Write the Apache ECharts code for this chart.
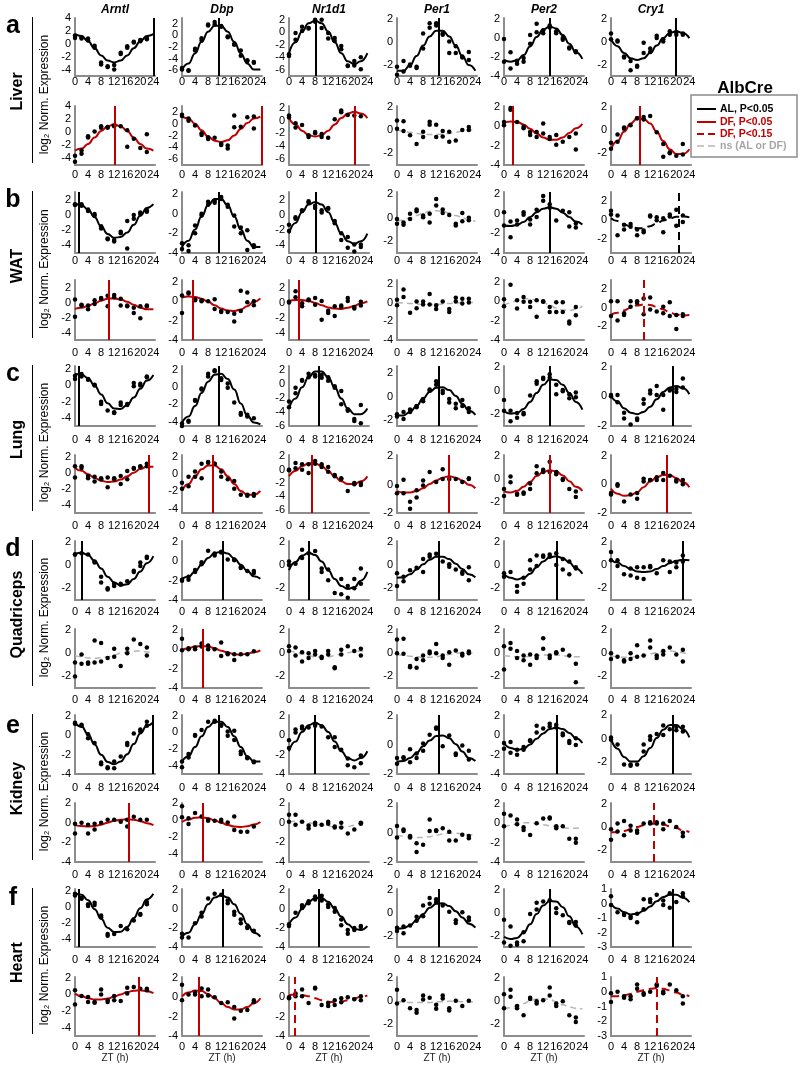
<!DOCTYPE html>
<html><head><meta charset="utf-8">
<script src="https://cdn.jsdelivr.net/npm/echarts@6/dist/echarts.min.js"></script>
<style>html,body{margin:0;padding:0;background:#fff}#c{width:800px;height:1068px}</style>
</head><body><div id="c"></div>
<script>
// ---------------- DATA ----------------
const GENES = ['Arntl','Dbp','Nr1d1','Per1','Per2','Cry1'];
const TISSUES = ['Liver','WAT','Lung','Quadriceps','Kidney','Heart'];
const LETTERS = ['a','b','c','d','e','f'];
const ZT = [0,2,4,6,8,10,12,14,16,18,20,22];
const FIT_ZT = [0,2,4,6,8,10,12,14,16,18,20,22,24];
const LEGEND_TITLE = 'AlbCre';
const LEGEND_LABELS = ['AL, P<0.05','DF, P<0.05','DF, P<0.15','ns (AL or DF)'];
const LEGEND_SIG = ['k','r','rd','g'];

// Liver AL
const liverAL_pts = [
 [[1.3,0.9],[1.0,0.8],[0.8,0.5],[-0.3,-0.6],[-2.9,-3.2],[-3.6,-3.5],[-3.3,-4.0],[-1.4,-1.6],[-0.4,-0.6],[0.3,0.2],[0.6,0.4],[0.9,0.7]],
 [[-5.6,-5.9],[-6.1,-6.0],[-2.3,-2.6],[-0.5,-0.9],[1.9,1.7],[2.3,1.9],[1.6,1.5],[-0.2,-0.3],[-1.5,-1.6],[-2.6,-3.5],[-4.4,-4.3],[-4.7,-4.6]],
 [[-3.5,-3.8],[-0.1,-1.2],[0.9,0.2],[0.7,0.6],[2.0,1.7],[2.0,0.7],[-0.1,-1.0],[-0.9,-1.4],[-2.2,-2.7],[-5.3,-5.4],[-4.6,-5.3],[-4.0,-5.9]],
 [[-2.2,-2.9],[-1.7,-2.6],[-2.0,-2.1],[-2.2,-2.3],[0.7,-0.6],[1.6,1.2],[1.6,1.4],[0.7,0.6],[0.0,-1.0],[-0.4,-1.0],[-1.3,-1.4],[-0.9,-1.6]],
 [[-0.1,-2.5],[-1.5,-3.2],[-2.4,-2.7],[-2.1,-2.5],[0.3,-0.6],[1.5,0.6],[0.8,0.5],[1.3,1.1],[0.7,0.5],[0.0,-0.2],[-1.0,-1.1],[-1.5,-1.4]],
 [[0.7,0.2],[0.0,0.1],[-1.3,-1.4],[-1.7,-2.5],[-2.1,-2.2],[-1.0,-0.1],[-0.6,-0.9],[0.5,0.3],[0.2,0.0],[0.9,0.6],[0.8,0.6],[0.7,0.6]]
];
const liverAL_fit = [
 [1.5,1.2,0.4,-0.7,-1.8,-2.6,-2.9,-2.6,-1.8,-0.7,0.4,1.2,1.5],
 [-5.9,-4.85,-3.1,-1.1,0.65,1.65,1.65,0.65,-1.1,-3.1,-4.85,-5.9,-5.9],
 [-3.35,-1.6,0.15,1.45,1.9,1.45,0.15,-1.6,-3.35,-4.65,-5.1,-4.65,-3.35],
 [-2.55,-2.55,-2.05,-1.25,-0.35,0.45,0.95,0.95,0.45,-0.35,-1.25,-2.05,-2.55],
 [-2.3,-2.5,-2.35,-1.8,-0.9,0.1,0.9,1.2,1.0,0.3,-0.6,-1.5,-2.2],
 [0.25,-0.4,-1.0,-1.45,-1.6,-1.45,-1.0,-0.35,0.3,0.75,0.9,0.75,0.3]
];
const liverAL_peak = [24.2, 11.2, 8.2, 12.9, 14.1, 19.9];
const liverAL_sig = ['k','k','k','k','k','k'];
const liverAL_ymin = [-5,-7,-7,-3,-4,-3];
const liverAL_ymax = [4,3,2.3,2.05,2.1,2.05];

// Liver DF
const liverDF_pts = [
 [[-3.6,-4.5],[-2.8,-3.3],[-0.6,-0.8],[0.1],[0.9,0.7],[0.8,0.7],[0.9,1.0],[0.9],[0.3,-2.2],[-1.0],[-2.4],[-0.3,-3.0]],
 [[1.5,1.3],[0.5,0.9],[-0.3],[-1.6,-1.9],[-2.3,-2.6],[-2.4],[-3.4,-3.6],[-3.7,-4.2],[1.4,-0.6],[-0.5],[1.1],[1.2,-0.8]],
 [[0.8,0.5],[-0.4,-1.1],[-0.7],[-2.6,-2.3],[-2.0,-1.8],[-2.1,-2.6],[-2.7],[0.2],[1.6,1.3],[0.9],[0.8],[0.7]],
 [[0.8,0.1],[0.75,-0.1],[-0.45],[-1.2],[-0.15,-0.6],[0.7,0.45],[0.45,-0.6],[-0.1,-0.55],[-0.15,-1.0],[-0.9],[0.0],[0.25,0.0]],
 [[0.45,0.1],[1.9,1.7],[0.45],[-0.05,-0.2],[-0.9,-0.6],[-1.1,-0.6],[0.3,-0.75],[-1.1,-1.3],[-0.9,-1.9],[-1.6],[-1.1],[-0.75,-2.4]],
 [[-1.1,-1.6],[-0.4,-1.0],[0.1,0.2],[0.4],[1.0,1.0],[1.1,0.9],[1.2],[-0.2],[-1.2,-2.3],[-2.0,-1.9],[-2.2],[-1.2,-2.1]]
];
const liverDF_fit = [
 [-2.8,-2.5,-1.8,-0.8,0.2,0.9,1.2,0.9,0.2,-0.8,-1.8,-2.5,-2.8],
 [1.2,0.9,0.0,-1.1,-2.2,-2.9,-3.1,-2.8,-2.0,-0.9,0.1,0.9,1.2],
 [0.4,-0.6,-1.6,-2.3,-2.5,-2.3,-1.6,-0.6,0.4,1.1,1.4,1.1,0.4],
 [0.0,-0.1,-0.2,-0.3,-0.35,-0.4,-0.4,-0.35,-0.3,-0.2,-0.1,0.0,0.05],
 [0.35,0.5,0.45,0.2,-0.25,-0.75,-1.15,-1.4,-1.4,-1.15,-0.7,-0.2,0.25],
 [-1.65,-0.95,-0.15,0.55,0.95,0.95,0.55,-0.15,-0.95,-1.65,-2.05,-2.05,-1.65]
];
const liverDF_peak = [12.2, 24.4, 20, null, 2.8, 8.9];
const liverDF_sig = ['r','r','r','g','r','r'];
const liverDF_ymin = [-5,-7,-7,-3,-4,-3];
const liverDF_ymax = [4,3,2.3,2.05,2.1,2.05];

// WAT AL
const watAL_pts = [
 [[1.4,1.3],[1.4,1.2],[0.7,0.5],[0.1,-0.1],[-1.5,-1.8],[-3.1,-3.2],[-3.3,-3.5],[-2.2,-2.4],[-0.8,-4.4],[0.0,-0.5],[0.3,0.1],[0.6,0.4]],
 [[-3.0,-3.6],[-3.2,-3.8],[-1.2,-2.0],[0.0,-0.2],[1.2,0.9],[1.3,1.1],[1.7,1.5],[0.9,0.7],[-1.3,-0.2],[-1.4,-2.0],[-1.7,-3.7],[-3.2,-3.4]],
 [[-1.3,-2.1],[-0.3,-0.5],[0.6,0.5],[1.8,1.6],[1.2,0.9],[0.6,0.3],[0.9,0.8],[-0.8,-1.1],[-2.4,-3.3],[-2.9,-4.3],[-3.9,-4.8],[-3.9,-4.2]],
 [[-0.1,-0.5],[-0.4,-0.6],[0.35,-0.1],[0.7,0.55],[0.2,0.05],[0.35,-0.4],[1.6,1.05],[0.7,0.4],[0.25],[-0.5,-0.65],[0.4,-0.3],[0.0,-0.2]],
 [[0.15,-1.2],[-0.8,-2.4],[-0.7,-1.1],[0.15,-0.1],[-0.6,-1.1],[0.4,-0.35],[1.8,1.3],[0.95,0.6],[-0.7],[0.3],[0.15,-1.3],[-1.0,-1.4]],
 [[1.0,0.6],[0.5,-1.6],[-0.5,-1.0],[-0.4,-0.7],[-1.0,-1.6],[-1.1,-1.3],[0.4,0.5],[0.3,0.0],[0.2,-1.3],[0.6,0.4],[1.1,-0.6],[0.5,-0.2]]
];
const watAL_fit = [
 [1.45,1.3,0.7,-0.3,-1.5,-2.5,-3.0,-2.9,-2.3,-1.3,-0.1,0.9,1.4],
 [-3.4,-2.75,-1.6,-0.3,0.85,1.5,1.5,0.85,-0.3,-1.6,-2.75,-3.4,-3.4],
 [-2.45,-1.05,0.35,1.35,1.7,1.35,0.35,-1.05,-2.45,-3.45,-3.8,-3.45,-2.45],
 [-0.3,-0.2,0.0,0.2,0.4,0.55,0.6,0.55,0.4,0.2,0.0,-0.2,-0.3],
 [-1.2,-1.25,-1.15,-0.85,-0.35,0.15,0.5,0.65,0.5,0.1,-0.35,-0.8,-1.1],
 [0.2,-0.1,-0.45,-0.7,-0.85,-0.85,-0.65,-0.35,-0.05,0.2,0.35,0.4,0.3]
];
const watAL_peak = [1.2, 11.3, 8.1, null, 14.1, 20.9];
const watAL_sig = ['k','k','k','g','k','kd'];
const watAL_ymin = [-5,-4,-5,-3,-4,-3.5];
const watAL_ymax = [3,2.2,3,2.2,2.2,3];

// WAT DF
const watDF_pts = [
 [[0.4,-1.9],[-0.3,-0.4],[-0.4,-0.9],[0.3,-0.2],[0.5,0.6],[0.9,-0.5],[1.0,0.7],[0.5,-0.4],[-0.4,-0.5],[-0.7,-1.4],[-0.5,-2.1],[-0.4,-0.5]],
 [[0.6,-1.2],[0.9,0.8],[0.2,0.1],[0.1,0.0],[0.0],[0.2,-0.8],[-1.0,-1.1],[-1.1],[-2.1,-1.3],[1.1,-1.0],[0.9,-0.1],[0.0,-0.4]],
 [[0.1,0.0],[1.5,0.7],[-0.1,-0.5],[0.4,0.3],[0.6,-0.3],[0.2,-2.3],[-1.1,-1.4],[-1.8,-0.5],[-0.4,-0.6],[0.6,0.2],[-0.6,-0.8],[0.1,-0.4]],
 [[0.3,-0.3],[1.4,0.6],[-1.1],[0.1,-0.6],[0.1,-0.2],[0.9,-0.2],[-0.3,-0.7],[0.1],[-0.7,-1.0],[0.5,0.1],[0.4,-0.1],[0.4,0.0]],
 [[0.2,-0.5],[1.7],[0.1,-0.75],[0.45,-0.05],[-0.05,-0.6],[0.1,-1.6],[0.0,-0.05],[-0.6,-1.1],[-0.1,-1.1],[-0.1,-1.1],[-2.1,-2.3],[-0.6,-1.45]],
 [[0.7,-0.9],[0.7,-1.4],[-0.6,-0.8],[0.7,0.1],[0.7,0.5],[1.0,-0.7],[1.1,-0.2],[-0.4],[0.1,-0.6],[0.6,-0.9],[-0.8,-2.3],[-0.7,-0.9]]
];
const watDF_fit = [
 [-0.85,-0.7,-0.45,-0.1,0.25,0.5,0.55,0.4,0.1,-0.3,-0.7,-0.9,-0.9],
 [0.4,0.5,0.45,0.25,-0.05,-0.4,-0.75,-0.95,-1.0,-0.85,-0.5,-0.05,0.3],
 [0.2,0.35,0.35,0.2,-0.05,-0.35,-0.65,-0.8,-0.85,-0.7,-0.45,-0.1,0.15],
 [0.0,-0.05,-0.1,-0.15,-0.2,-0.2,-0.2,-0.15,-0.1,-0.05,0.0,0.0,0.0],
 [-0.45,-0.15,0.1,0.25,0.25,0.1,-0.1,-0.4,-0.7,-0.9,-0.95,-0.8,-0.5],
 [-0.75,-0.55,-0.3,0.0,0.25,0.35,0.3,0.1,-0.2,-0.5,-0.75,-0.85,-0.8]
];
const watDF_peak = [10.2, 3.2, 3.1, null, null, 10.1];
const watDF_sig = ['r','r','r','g','g','rd'];
const watDF_ymin = [-5,-4,-5,-4,-4,-3.5];
const watDF_ymax = [3,2.2,3,2.4,2.2,3];

// Lung AL
const lungAL_pts = [
 [[1.2,0.8],[1.4,1.1],[0.8,0.7],[0.1,0.0],[-2.0,-2.3],[-3.1],[-3.3,-3.4],[-2.1,-2.4],[-2.3,-2.4],[0.3,-0.1],[0.2,0.0],[1.0,1.1]],
 [[-4.2,-4.5],[-3.9,-4.0],[-1.6,-1.5],[-0.2,-0.3],[1.5,1.2],[1.9,1.8],[0.8,1.0],[0.4,-0.1],[-1.8],[-3.0,-3.2],[-3.2,-3.4],[-3.6]],
 [[-2.5,-3.3],[-0.5,-1.3],[0.5,0.6],[1.5,1.0],[1.3,1.1],[0.9,1.3],[1.0,0.5],[-0.3,-0.5],[-1.0,-2.9],[-3.6,-3.8],[-5.0,-5.3],[-3.0,-5.6]],
 [[-1.5,-1.7],[-1.3,-1.9],[-1.1,-1.3],[-0.9,-0.8],[-0.2,-0.4],[0.5,0.6],[1.3,1.0],[0.5,0.3],[-0.2,-0.5],[-0.6,-1.0],[-0.3,-0.8],[-1.0,-1.3]],
 [[-0.8,-1.7],[-1.7,-2.6],[-1.9,-2.3],[-1.9,-2.0],[-0.4],[0.8,0.6],[1.1,1.0],[1.4,1.1],[0.5,-0.3],[0.05,-0.05],[-0.3,-0.65],[-0.15,-0.55]],
 [[0.0,0.1],[0.1,-0.4],[-1.1,-1.5],[-1.9],[-1.6,-1.5],[-0.2,-0.5],[0.4,0.2],[0.7,0.1],[0.1,-0.9],[0.4,0.5],[0.3,0.5],[1.2,0.6]]
];
const lungAL_fit = [
 [1.4,1.35,0.9,0.0,-1.1,-2.2,-2.85,-2.9,-2.4,-1.5,-0.4,0.6,1.3],
 [-4.1,-3.4,-2.2,-0.7,0.6,1.4,1.5,0.9,-0.3,-1.9,-3.3,-4.1,-4.3],
 [-3.5,-2.05,-0.45,1.0,1.8,1.8,1.0,-0.45,-2.05,-3.5,-4.3,-4.3,-3.5],
 [-1.6,-1.6,-1.3,-0.8,-0.15,0.4,0.75,0.8,0.55,0.05,-0.6,-1.2,-1.55],
 [-1.75,-1.95,-1.9,-1.55,-0.95,-0.2,0.5,0.95,0.9,0.5,-0.2,-0.95,-1.6],
 [0.05,-0.35,-0.8,-1.1,-1.2,-1.05,-0.7,-0.2,0.3,0.6,0.7,0.55,0.15]
];
const lungAL_peak = [1.2, 11.3, 9.2, 12.9, 14.1, 19];
const lungAL_sig = ['k','k','k','k','k','k'];
const lungAL_ymin = [-5,-4.5,-6,-2.5,-3,-2];
const lungAL_ymax = [2.4,2.4,2.6,2.6,2.1,2.05];

// Lung DF
const lungDF_pts = [
 [[0.8,-0.6],[0.8,0.6],[-0.4,-0.7],[-0.5,-1.1],[-0.7,-0.8],[-0.6,-1.8],[-0.7,-0.8],[-0.4,-1.4],[0.2,-0.8],[0.6,0.5],[0.8,0.7],[1.1,0.8]],
 [[-1.0,-1.7],[-0.3,-1.4],[0.3,-0.3],[1.2,-0.5],[1.4,1.3],[1.2,1.2],[0.3,-0.3],[-0.6],[-0.8,-1.7],[-2.4],[-2.5,-2.4],[-2.5,-2.3]],
 [[0.0,-0.1],[1.0,0.2],[0.8,0.0],[0.8,-0.5],[1.3,0.9],[0.8,0.4],[0.4,-0.3],[-0.8,-1.0],[-1.3,-1.4],[-3.2],[-2.2,-2.0],[-2.0,-2.3]],
 [[-0.6,-0.1],[0.35,-0.6],[-1.2,-1.7],[-0.4,-0.9],[0.3,-0.05],[0.9],[0.2],[1.1,0.4],[0.4],[0.4],[0.2],[0.4,0.45]],
 [[-0.9,-1.5],[0.2,-0.3],[-1.4,-1.3],[-1.3,-1.2],[-0.4,-0.9],[1.1,0.5],[0.8,0.6],[1.5,0.6],[0.6,0.4],[0.0,-0.1],[-0.9],[-1.1,-1.6]],
 [[-0.6,-0.7],[-0.1,0.0],[-1.2],[-0.7],[-0.6,-1.0],[0.4,0.2],[0.3,0.3],[0.5,0.3],[0.8,0.3],[0.6],[0.2,0.3],[0.3,0.0]]
];
const lungDF_fit = [
 [0.6,0.25,-0.2,-0.65,-1.0,-1.15,-1.1,-0.85,-0.45,0.0,0.45,0.75,0.75],
 [-1.95,-1.15,-0.25,0.55,1.0,1.0,0.55,-0.25,-1.15,-1.95,-2.4,-2.4,-1.95],
 [-1.0,-0.2,0.55,0.95,0.95,0.55,-0.2,-1.0,-1.75,-2.15,-2.15,-1.75,-1.0],
 [-0.45,-0.55,-0.55,-0.45,-0.25,0.05,0.3,0.5,0.6,0.5,0.3,0.0,-0.25],
 [-1.1,-1.2,-1.05,-0.7,-0.25,0.25,0.6,0.75,0.65,0.3,-0.2,-0.7,-1.05],
 [-0.3,-0.65,-0.8,-0.75,-0.55,-0.2,0.2,0.5,0.65,0.65,0.45,0.15,-0.2]
];
const lungDF_peak = [22.7, 9.3, 7.1, 16, 14.1, 17];
const lungDF_sig = ['r','r','r','r','r','r'];
const lungDF_ymin = [-5,-4.5,-6.5,-2,-3,-2];
const lungDF_ymax = [2.2,2.2,2.2,2.1,2.1,2.05];

// Quadriceps AL
const quadAL_pts = [
 [[0.9,0.9],[1.0],[0.9],[0.2,0.3],[-1.0,-1.5],[-2.0,-2.1],[-1.6,-1.8],[-1.7,-1.6],[-1.4],[-0.6,-0.5],[0.2,-0.1],[0.7,0.6]],
 [[-1.9,-2.0],[-1.9,-1.6],[-1.1,-0.9],[-0.1,-0.3],[1.1],[0.8,0.6],[1.0,0.9],[0.2],[0.1,0.2],[-0.6,-0.7],[-1.0],[-1.0,-1.2]],
 [[0.3,0.0],[0.1],[1.3,0.6],[1.0],[1.2],[-0.3,-0.6],[-0.4,-1.3],[-2.4],[-1.2,-2.5],[-2.8,-1.8],[-1.2,-2.0],[-0.3,-1.6]],
 [[-0.7,-1.8],[-1.0,-1.4],[-0.45],[-0.25],[0.5,-0.6],[0.9,0.7],[0.95],[0.3],[0.05,-0.15],[-0.4],[-0.6,-0.75],[-0.2,-1.3]],
 [[-0.7,-1.0],[-0.6],[-1.8,-2.3],[-1.1,-1.6],[0.4,-0.4],[0.8,-0.1],[0.8,0.7],[0.9,0.7],[1.0,0.0],[0.5,-0.4],[0.3,-0.8],[-0.2,-0.3]],
 [[1.1,0.4],[0.4,-0.1],[-0.8],[-0.3,-0.9],[-0.2,-1.1],[-0.2,-1.2],[-0.1,-0.2],[-0.7],[0.4],[0.3,-0.6],[0.2,-0.2],[0.8,0.3]]
];
const quadAL_fit = [
 [0.95,1.05,0.85,0.35,-0.3,-1.0,-1.5,-1.75,-1.65,-1.2,-0.55,0.15,0.75],
 [-1.8,-1.6,-1.05,-0.35,0.35,0.85,1.0,0.8,0.3,-0.35,-1.0,-1.55,-1.8],
 [-0.45,0.25,0.8,1.05,0.85,0.3,-0.45,-1.2,-1.8,-2.05,-1.9,-1.35,-0.6],
 [-1.1,-1.05,-0.8,-0.4,0.05,0.45,0.7,0.7,0.5,0.1,-0.35,-0.8,-1.05],
 [-0.75,-1.1,-1.25,-1.1,-0.75,-0.2,0.3,0.65,0.75,0.6,0.2,-0.3,-0.75],
 [0.45,0.2,-0.1,-0.35,-0.55,-0.6,-0.55,-0.35,-0.1,0.15,0.35,0.45,0.4]
];
const quadAL_peak = [2.1, 12.5, 6.1, 12.9, 16.2, 22.1];
const quadAL_sig = ['k','k','k','k','k','k'];
const quadAL_ymin = [-3,-4,-3,-3,-3,-3];
const quadAL_ymax = [2.05,2.1,2.05,2.05,2.05,2.05];

// Quadriceps DF
const quadDF_pts = [
 [[-0.8,-2.0],[-0.1,-0.9],[-0.8,-0.9],[1.1,-0.8],[0.9,-0.7],[-0.4],[0.4,-0.3],[-1.1],[0.4,0.0],[1.2],[0.8],[0.5,-0.2]],
 [[1.1,-0.1],[0.0,0.1],[0.0,0.2],[0.6,0.3],[0.4,0.0],[0.0],[0.7,-0.7],[-0.4,-0.5],[-1.1,-0.5],[-0.5],[-0.5],[-0.2]],
 [[0.6,0.2],[0.5,-0.2],[0.1,-0.7],[0.0,-0.4],[0.2,-0.1],[-0.3,-0.4],[0.2,-0.1],[-1.2,-1.3],[0.3,-0.1],[0.6],[0.2],[0.4,-0.2]],
 [[1.2,0.0],[1.25,-0.05],[-1.1,-1.2],[-1.25,-0.5],[-0.2,-0.6],[0.15,0.0],[0.8,0.0],[-0.2,-0.4],[0.1,-1.0],[0.25],[-0.05,-0.2],[0.15,0.0]],
 [[0.6,-1.4],[0.9,0.4],[0.2,-0.4],[-0.2,-0.6],[-0.1,-1.0],[-0.2,-0.4],[1.3,0.4],[-0.2,-0.4],[0.1,0.0],[0.3],[-0.2],[-0.9,-2.5]],
 [[0.0,-0.5],[-0.3],[-0.6,-0.7],[0.0,-0.5],[0.7,-0.3],[-0.2],[1.1,0.5],[-0.2,-0.4],[0.2,-0.1],[0.5],[-0.1],[0.3,-0.7]]
];
const quadDF_fit = [
 [-0.2,-0.3,-0.4,-0.42,-0.38,-0.3,-0.15,0.0,0.1,0.18,0.2,0.12,0.0],
 [-0.1,0.1,0.3,0.35,0.3,0.1,-0.15,-0.35,-0.5,-0.55,-0.45,-0.3,-0.1],
 [0.25,0.1,-0.05,-0.2,-0.3,-0.35,-0.3,-0.2,-0.05,0.05,0.15,0.2,0.2],
 [-0.1,-0.15,-0.25,-0.3,-0.35,-0.35,-0.3,-0.2,-0.1,0.0,0.05,0.05,0.0],
 [-0.2,-0.25,-0.3,-0.3,-0.25,-0.2,-0.15,-0.15,-0.15,-0.2,-0.25,-0.3,-0.3],
 [-0.2,-0.3,-0.35,-0.35,-0.3,-0.2,-0.05,0.05,0.15,0.2,0.15,0.05,-0.1]
];
const quadDF_peak = [null, 6.3, null, null, null, null];
const quadDF_sig = ['g','r','g','g','g','g'];
const quadDF_ymin = [-3,-4,-3,-3,-3,-3];
const quadDF_ymax = [2.1,2.1,2.1,2.1,2.1,2.1];

// Kidney AL
const kidneyAL_pts = [
 [[1.3,1.2],[1.1,1.0],[0.1,-0.3],[-0.8],[-2.8,-3.0],[-3.3,-3.4],[-2.7,-3.4],[-2.2],[-0.8,-1.0],[0.2],[0.6,0.4],[1.0,1.4]],
 [[-3.5,-4.2],[-2.6,-3.0],[-0.3,-0.4],[0.3],[1.3],[1.4,1.3],[0.9,0.8],[0.1,-0.4],[-0.9,0.2],[-2.3,-2.6],[-3.0,-3.1],[-3.5,-3.6]],
 [[-0.5,-1.3],[0.6,0.3],[0.9,0.7],[0.8],[1.2,1.0],[0.9],[-0.2],[-0.2,-1.2],[-1.5],[-3.1,-2.4],[-3.3],[-2.1,-2.9]],
 [[-0.9,-1.3],[-0.85,-0.9],[-0.3,-1.2],[-0.6,-0.9],[0.1,-0.4],[0.7],[1.2,1.1],[-0.1],[0.65],[-0.6,-0.7],[-0.05],[-0.4,-1.0]],
 [[-0.8,-1.4],[-0.7,-1.8],[-1.5,-2.0],[-1.2,-1.5],[-0.5,-0.6],[1.0,0.3],[0.7],[0.9,1.2],[1.1,0.8],[0.2,0.0],[-0.6,-0.8],[-0.3,-1.0]],
 [[0.1,-0.1],[-0.5],[-2.2],[-2.3,-2.2],[-2.2],[-0.5,-1.1],[-0.1,0.2],[0.4],[1.1,0.3],[0.8],[1.0,0.7],[1.0,0.6]]
];
const kidneyAL_fit = [
 [1.25,0.9,0.1,-0.95,-2.0,-2.75,-3.0,-2.7,-1.95,-0.9,0.2,1.0,1.35],
 [-3.5,-2.85,-1.75,-0.45,0.65,1.3,1.3,0.65,-0.45,-1.75,-2.85,-3.5,-3.5],
 [-1.65,-0.65,0.35,1.05,1.3,1.05,0.35,-0.65,-1.65,-2.35,-2.6,-2.35,-1.65],
 [-1.15,-1.1,-0.9,-0.55,-0.1,0.3,0.6,0.65,0.45,0.05,-0.45,-0.9,-1.1],
 [-0.8,-1.3,-1.5,-1.4,-0.95,-0.35,0.2,0.65,0.8,0.65,0.25,-0.3,-0.8],
 [0.0,-0.85,-1.55,-1.95,-1.95,-1.5,-0.8,0.05,0.75,1.15,1.15,0.8,0.1]
];
const kidneyAL_peak = [23.7, 11.3, 8, 12.9, 16.2, 19];
const kidneyAL_sig = ['k','k','k','k','k','k'];
const kidneyAL_ymin = [-4,-5,-4,-2,-4,-3];
const kidneyAL_ymax = [2.1,2.1,2.1,2.05,2.1,2.0];

// Kidney DF
const kidneyDF_pts = [
 [[-0.1,-1.1],[0.0],[-0.2,-1.1],[-0.1,-0.7],[0.0],[0.3],[0.3],[0.1],[0.3,-0.4],[0.6],[0.3],[0.3]],
 [[1.6,0.3],[0.2,-0.5],[0.8],[0.4],[-0.1,0.0],[-0.1],[0.0,-0.2],[-0.3],[0.4,-1.2],[-1.4],[-1.4],[-0.8]],
 [[0.8,0.1],[0.8,-0.2],[0.1],[-0.3,-0.6],[-0.2,0.0],[-0.2],[-0.1,0.1],[-0.5,-0.4],[0.0,-0.5],[-1.1],[-0.7],[0.0,-0.1]],
 [[0.5,-0.3],[0.25,0.15],[-0.2,-0.3],[-0.7,-1.3],[-0.8],[0.95,0.15],[0.2,0.15],[0.35],[0.1,-0.5],[-0.5],[-0.1],[-0.2,-0.35]],
 [[1.0,-0.3],[0.8],[0.4,-0.1],[-0.4,-0.7],[-1.2],[0.0],[0.5],[0.6,0.5],[-0.3,-0.5],[-0.3],[-1.6],[-1.6,-2.0]],
 [[-0.2,-1.1],[0.3,-0.4],[0.5,-0.7],[0.1,-0.3],[-0.3,-0.5],[0.3],[0.4,0.3],[0.4,0.3],[0.3,-0.2],[0.5],[0.0],[-0.5,-0.8]]
];
const kidneyDF_fit = [
 [-0.25,-0.35,-0.4,-0.35,-0.2,0.0,0.2,0.3,0.35,0.3,0.15,-0.05,-0.25],
 [-0.25,0.05,0.25,0.3,0.2,-0.05,-0.35,-0.6,-0.8,-0.85,-0.75,-0.55,-0.25],
 [0.1,0.15,0.1,0.0,-0.1,-0.25,-0.35,-0.45,-0.45,-0.4,-0.25,-0.05,0.1],
 [-0.15,-0.2,-0.25,-0.3,-0.3,-0.25,-0.15,-0.05,0.0,0.0,-0.05,-0.1,-0.15],
 [-0.4,-0.2,-0.05,0.05,0.05,-0.05,-0.15,-0.25,-0.35,-0.45,-0.5,-0.5,-0.45],
 [-0.45,-0.45,-0.35,-0.2,0.0,0.15,0.25,0.3,0.2,0.05,-0.1,-0.3,-0.45]
];
const kidneyDF_peak = [16.6, 6.3, null, null, null, 13.2];
const kidneyDF_sig = ['r','r','g','g','g','rd'];
const kidneyDF_ymin = [-4,-5,-4,-2,-4,-3];
const kidneyDF_ymax = [2,2,2,2.1,2.1,2.05];

// Heart AL
const heartAL_pts = [
 [[1.6,1.4],[1.1,1.0],[0.3,0.1],[0.5,0.2],[-1.1,-1.3],[-3.4,-3.6],[-3.4],[-2.4],[-2.8],[-1.7],[-0.9,-1.0],[0.3,0.6]],
 [[-2.6,-3.0],[-3.0],[-1.5],[-0.4,-0.8],[1.1],[1.6],[1.5],[0.9,0.6],[-0.3,-0.6],[-1.1,-1.5],[-1.9,-2.0],[-2.3]],
 [[-1.6,-1.8],[-0.4],[0.4,0.1],[0.6,0.8],[1.3,1.0],[1.4,0.9],[0.5,0.2],[-0.3,0.1],[-1.1,-1.7],[-2.2,-2.6],[-2.0,-2.2],[-1.8,-1.9]],
 [[-1.3,-1.6],[-1.2,-1.8],[-1.1],[-0.35,-0.7],[0.65,-0.3],[1.3,0.8],[1.2,0.95],[0.65],[0.1],[-0.65,-0.9],[0.05],[-0.4,-0.65]],
 [[-0.6,-2.6],[-1.2,-2.9],[-2.6,-2.8],[-1.7,-2.5],[-0.1],[0.9,0.3],[1.0],[1.1],[0.4,0.0],[-0.2],[-0.8,-0.9],[-0.8,-1.1]],
 [[0.5,-0.1],[-0.6],[-0.7,-0.8],[-0.9,-1.0],[-0.7,-1.3],[-0.4,0.3],[0.1,0.3],[0.6],[0.2,-0.1],[-0.3,0.7],[0.1],[0.7,0.5]]
];
const heartAL_fit = [
 [1.65,1.5,0.8,-0.3,-1.5,-2.6,-3.15,-3.1,-2.5,-1.4,-0.2,0.9,1.6],
 [-2.9,-2.5,-1.6,-0.55,0.5,1.2,1.45,1.2,0.5,-0.5,-1.6,-2.5,-2.9],
 [-1.65,-0.9,0.0,0.75,1.15,1.15,0.75,0.05,-0.8,-1.6,-2.1,-2.2,-1.8],
 [-1.4,-1.35,-1.1,-0.65,-0.1,0.45,0.8,0.85,0.6,0.15,-0.4,-0.95,-1.3],
 [-2.1,-2.3,-2.2,-1.75,-1.0,-0.1,0.65,1.05,1.0,0.5,-0.3,-1.2,-1.9],
 [0.0,-0.35,-0.6,-0.75,-0.7,-0.5,-0.2,0.15,0.45,0.6,0.6,0.4,0.1]
];
const heartAL_peak = [1.2, 12.5, 9.2, 12.9, 14.1, 19];
const heartAL_sig = ['k','k','k','k','k','k'];
const heartAL_ymin = [-5,-4,-4,-3,-3,-3];
const heartAL_ymax = [2.2,2.1,2.1,2.1,2.1,1.0];

// Heart DF
const heartDF_pts = [
 [[0.5,-1.2],[-0.2],[-0.3,-0.9],[-0.9,-1.0],[0.6,0.0],[-0.7,-0.9],[-0.2,-0.7],[-0.8],[0.8,0.1],[0.9],[0.7],[0.7,0.5]],
 [[1.3,-0.3],[0.3],[0.5,0.3],[0.9,0.1],[0.8,0.2],[0.0],[-0.6],[-0.5],[-1.0,-2.2],[-1.4],[-1.3],[-0.3,-0.5]],
 [[0.0,-0.1],[0.4,0.1],[0.8,0.1],[-0.6],[1.0,0.9],[-0.8],[-0.9,-0.6],[-0.3,-0.8],[-0.1,-0.5],[0.0],[-0.2],[0.1,-0.3]],
 [[1.0,-0.2],[0.1],[-0.6],[-0.75,-1.0],[0.5,0.15],[0.3],[-0.3,-0.65],[0.5,0.25],[-0.6,-0.8],[0.05],[-0.4],[0.05]],
 [[0.6,-0.6],[1.0,0.4],[-0.4,-0.6],[-1.2],[0.3,0.2],[0.0,-0.2],[0.1],[1.2,0.5],[-0.2,-0.4],[0.0],[-1.2],[-1.4,-1.8]],
 [[-0.1,-0.7],[0.0],[-0.3,-0.4],[-0.3,-0.5],[0.5,0.2],[-0.2,-0.1],[0.0],[0.5,0.4],[0.0,-0.1],[0.5],[0.1],[-0.3,-0.8]]
];
const heartDF_fit = [
 [0.1,-0.2,-0.45,-0.6,-0.6,-0.5,-0.25,0.0,0.3,0.45,0.5,0.4,0.15],
 [0.1,0.5,0.7,0.65,0.35,-0.1,-0.6,-1.0,-1.25,-1.25,-1.0,-0.6,-0.1],
 [0.25,0.3,0.25,0.1,-0.1,-0.3,-0.45,-0.5,-0.45,-0.3,-0.1,0.05,0.2],
 [-0.05,-0.05,-0.1,-0.1,-0.1,-0.1,-0.05,-0.05,0.0,0.0,-0.05,-0.05,-0.1],
 [-0.6,-0.55,-0.4,-0.2,0.05,0.2,0.25,0.15,-0.05,-0.3,-0.5,-0.6,-0.65],
 [-0.3,-0.3,-0.25,-0.15,0.0,0.1,0.2,0.25,0.2,0.1,-0.05,-0.2,-0.3]
];
const heartDF_peak = [19.4, 5.2, 1.8, null, null, 14.1];
const heartDF_sig = ['r','r','rd','g','g','rd'];
const heartDF_ymin = [-5,-4,-4,-3,-3,-3];
const heartDF_ymax = [2.1,2.1,2.1,2.1,2.1,1.0];

// panels whose y axis is labelled at every integer
const UNIT_TICK_PANELS = ['heartAL:5','heartDF:5'];

// ---------------- LAYOUT ----------------
const FONT = '"Liberation Sans", Arial, Helvetica, sans-serif';
const COL_X = [75,182,289,397,504,611];
const PLOT_W = 80;
const ROW_TOP = [18,106,192,280,366,455,541,629,715,803,889,977];
const ROW_BOT = [76,165,253,340,426,513,600,688,774,862,947,1036];
const ROW_LAB = [82,175,261,353,440,526,612,700,788,875,960,1047];
const LETTER_Y = [26,200,374,549,726,898];
const AXIS_COLOR = '#8c8c8c';
const STYLE = {
  k:  {color:'#000000', width:2, type:'solid'},
  kd: {color:'#000000', width:2, type:[8,5]},
  r:  {color:'#c00000', width:2, type:'solid'},
  rd: {color:'#c00000', width:2, type:[8,5]},
  g:  {color:'#b5b5b5', width:1.5, type:[6,4]}
};
const TEXT_COLOR = {k:'#000000', r:'#c00000', rd:'#c00000', g:'#a6a6a6'};

const ROWS = [
 {key:'liverAL', pts:liverAL_pts, fit:liverAL_fit, peak:liverAL_peak, sig:liverAL_sig, ymin:liverAL_ymin, ymax:liverAL_ymax},
 {key:'liverDF', pts:liverDF_pts, fit:liverDF_fit, peak:liverDF_peak, sig:liverDF_sig, ymin:liverDF_ymin, ymax:liverDF_ymax},
 {key:'watAL', pts:watAL_pts, fit:watAL_fit, peak:watAL_peak, sig:watAL_sig, ymin:watAL_ymin, ymax:watAL_ymax},
 {key:'watDF', pts:watDF_pts, fit:watDF_fit, peak:watDF_peak, sig:watDF_sig, ymin:watDF_ymin, ymax:watDF_ymax},
 {key:'lungAL', pts:lungAL_pts, fit:lungAL_fit, peak:lungAL_peak, sig:lungAL_sig, ymin:lungAL_ymin, ymax:lungAL_ymax},
 {key:'lungDF', pts:lungDF_pts, fit:lungDF_fit, peak:lungDF_peak, sig:lungDF_sig, ymin:lungDF_ymin, ymax:lungDF_ymax},
 {key:'quadAL', pts:quadAL_pts, fit:quadAL_fit, peak:quadAL_peak, sig:quadAL_sig, ymin:quadAL_ymin, ymax:quadAL_ymax},
 {key:'quadDF', pts:quadDF_pts, fit:quadDF_fit, peak:quadDF_peak, sig:quadDF_sig, ymin:quadDF_ymin, ymax:quadDF_ymax},
 {key:'kidneyAL', pts:kidneyAL_pts, fit:kidneyAL_fit, peak:kidneyAL_peak, sig:kidneyAL_sig, ymin:kidneyAL_ymin, ymax:kidneyAL_ymax},
 {key:'kidneyDF', pts:kidneyDF_pts, fit:kidneyDF_fit, peak:kidneyDF_peak, sig:kidneyDF_sig, ymin:kidneyDF_ymin, ymax:kidneyDF_ymax},
 {key:'heartAL', pts:heartAL_pts, fit:heartAL_fit, peak:heartAL_peak, sig:heartAL_sig, ymin:heartAL_ymin, ymax:heartAL_ymax},
 {key:'heartDF', pts:heartDF_pts, fit:heartDF_fit, peak:heartDF_peak, sig:heartDF_sig, ymin:heartDF_ymin, ymax:heartDF_ymax}
];

const grids = [], xAxes = [], yAxes = [], series = [];
ROWS.forEach((row, r) => {
  const top = ROW_TOP[r], bot = ROW_BOT[r];
  for (let c = 0; c < 6; c++) {
    const idx = grids.length;
    const step = UNIT_TICK_PANELS.indexOf(row.key + ':' + c) >= 0 ? 1 : 2;
    grids.push({left: COL_X[c], top: top, width: PLOT_W, height: bot - top});
    xAxes.push({
      gridIndex: idx, type: 'value', min: 0, max: 24.5, interval: 4,
      axisLine: {onZero: false, lineStyle: {color: AXIS_COLOR, width: 2}},
      axisTick: {show: false}, splitLine: {show: false},
      axisLabel: {margin: Math.max(0, ROW_LAB[r] - bot - 6), fontSize: 11, color: '#000', fontFamily: FONT,
        formatter: v => (Math.abs(v % 4) < 1e-6 && v <= 24) ? String(Math.round(v)) : ''}
    });
    yAxes.push({
      gridIndex: idx, type: 'value', min: row.ymin[c], max: row.ymax[c], interval: 0.5,
      axisLine: {show: true, onZero: false, lineStyle: {color: AXIS_COLOR, width: 2}},
      axisTick: {show: false}, splitLine: {show: false},
      axisLabel: {margin: 4, fontSize: 11, color: '#000', fontFamily: FONT, showMinLabel: true, showMaxLabel: true,
        formatter: v => { const n = Math.round(v); if (Math.abs(v - n) > 1e-6) return ''; return (n % step === 0) ? String(n) : ''; }}
    });
    const st = STYLE[row.sig[c]];
    const sdata = [];
    row.pts[c].forEach((vals, i) => vals.forEach(v => sdata.push([ZT[i], v])));
    const fitSeries = {
      type: 'line', xAxisIndex: idx, yAxisIndex: idx,
      data: FIT_ZT.map((t, i) => [t, row.fit[c][i]]),
      smooth: 0.5, smoothMonotone: 'x', symbol: 'none', showSymbol: false, silent: true, z: 2,
      lineStyle: {color: st.color, width: st.width, type: st.type}
    };
    if (row.peak[c] != null) {
      fitSeries.markLine = {
        silent: true, symbol: ['none','none'], label: {show: false}, animation: false,
        lineStyle: {color: st.color, width: st.width, type: st.type},
        emphasis: {disabled: true},
        data: [{xAxis: row.peak[c]}]
      };
    }
    series.push(fitSeries);
    series.push({type: 'scatter', xAxisIndex: idx, yAxisIndex: idx, data: sdata, symbolSize: 4.5,
      itemStyle: {color: '#000', opacity: 1}, silent: true, z: 3});
  }
});

// ---------------- GRAPHICS (titles, labels, legend) ----------------
const graphic = [];
function txt(x, y, text, size, opts) {
  opts = opts || {};
  return {type: 'text', x: x, y: y, rotation: opts.rot || 0, silent: true,
    style: {text: text, fontSize: size, fontWeight: opts.weight || 'normal', fontStyle: opts.italic ? 'italic' : 'normal',
      fontFamily: FONT, fill: opts.color || '#000',
      align: opts.align || 'center', verticalAlign: 'middle',
      textAlign: opts.align || 'center', textVerticalAlign: 'middle'}};
}
GENES.forEach((g, c) => graphic.push(txt(COL_X[c] + 40, 10, g, 12, {weight: 'bold', italic: true})));
TISSUES.forEach((t, i) => {
  const top = ROW_TOP[2*i], bot = ROW_BOT[2*i + 1];
  const mid = (top + bot) / 2;
  graphic.push(txt(13, LETTER_Y[i], LETTERS[i], 25, {weight: 'bold'}));
  graphic.push(txt(18, mid, t, 16, {weight: 'bold', rot: Math.PI / 2}));
  graphic.push(txt(45, mid + 3, 'log\u2082 Norm. Expression', 12, {rot: Math.PI / 2}));
  graphic.push({type: 'line', silent: true, shape: {x1: 32.5, y1: top - 1, x2: 32.5, y2: bot - 2},
    style: {stroke: '#000', lineWidth: 1}});
});
COL_X.forEach(x => graphic.push(txt(x + 40, 1058, 'ZT (h)', 10, {color: '#222'})));
// legend
graphic.push(txt(745, 88, LEGEND_TITLE, 17, {weight: 'bold'}));
graphic.push({type: 'rect', silent: true, shape: {x: 691, y: 95, width: 106, height: 62},
  style: {fill: 'none', stroke: '#8c8c8c', lineWidth: 1.5}});
const LEG_Y = [109, 122, 134, 146];
LEGEND_LABELS.forEach((lab, i) => {
  const st = STYLE[LEGEND_SIG[i]];
  graphic.push({type: 'line', silent: true, shape: {x1: 697, y1: LEG_Y[i], x2: 716, y2: LEG_Y[i]},
    style: {stroke: st.color, lineWidth: st.width, lineDash: Array.isArray(st.type) ? [7,4] : null}});
  graphic.push(txt(720, LEG_Y[i], lab, 10.5, {weight: 'bold', align: 'left', color: TEXT_COLOR[LEGEND_SIG[i]]}));
});

const chart = echarts.init(document.getElementById('c'), null, {renderer: 'canvas'});
chart.setOption({
  animation: false,
  backgroundColor: '#ffffff',
  grid: grids, xAxis: xAxes, yAxis: yAxes, series: series,
  graphic: graphic
});
</script>
</body></html>
